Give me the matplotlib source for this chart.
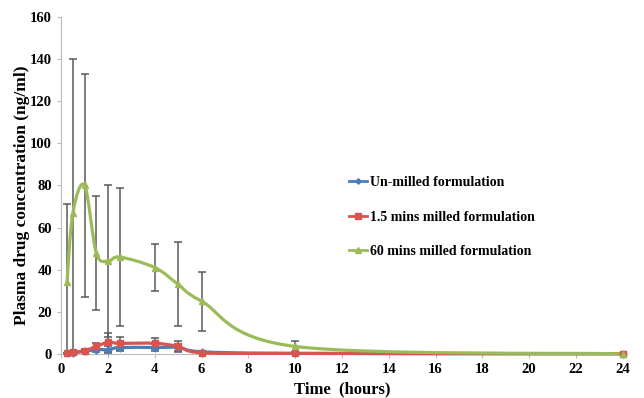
import matplotlib
matplotlib.use("Agg")
import matplotlib.pyplot as plt
import numpy as np
from matplotlib.path import Path
from matplotlib.patches import PathPatch
from matplotlib.lines import Line2D

plt.rcParams["font.family"] = "Liberation Serif"
plt.rcParams["font.weight"] = "bold"

time_h = [0.25, 0.5, 1, 1.5, 2, 2.5, 4, 5, 6, 10, 24]

unmilled = [0.2, 0.5, 1.2, 2.0, 2.0, 3.0, 3.0, 3.0, 1.0, 0.2, 0.0]
unmilled_err = [0.2, 0.3, 0.5, 1.0, 1.5, 1.5, 1.5, 1.5, 0.5, 0.2, 0.0]

milled_15 = [0.3, 0.7, 1.5, 3.5, 5.5, 5.0, 5.0, 3.5, 0.5, 0.2, 0.1]
milled_15_err = [0.3, 0.4, 0.8, 1.5, 4.5, 3.0, 2.5, 2.5, 0.5, 0.2, 0.0]

milled_60 = [34, 67, 80, 48, 44, 46, 41, 33, 25, 3.5, 0.0]
milled_60_err = [37, 73, 53, 27, 36, 33, 11, 20, 14, 2.5, 0.0]

series = [
    ("Un-milled formulation", unmilled, unmilled_err, "#4A7EBB", "D", 3.5),
    ("1.5 mins milled formulation", milled_15, milled_15_err, "#D9534F", "s", 5),
    ("60 mins milled formulation", milled_60, milled_60_err, "#9BBB59", "^", 5),
]


def smooth_path(ax, xs, ys):
    # Excel style smoothed line: cubic Bezier through points, built in display space
    pts = ax.transData.transform(np.column_stack([xs, ys]))
    n = len(pts)
    verts = [pts[0]]
    codes = [Path.MOVETO]
    for i in range(n - 1):
        p0 = pts[i - 1] if i > 0 else pts[i]
        p1 = pts[i]
        p2 = pts[i + 1]
        p3 = pts[i + 2] if i + 2 < n else pts[i + 1]
        c1 = p1 + (p2 - p0) / 6.0
        c2 = p2 - (p3 - p1) / 6.0
        verts += [c1, c2, p2]
        codes += [Path.CURVE4] * 3
    verts = ax.transData.inverted().transform(np.array(verts))
    return Path(verts, codes)


fig = plt.figure(figsize=(6.44, 3.98), dpi=100)
ax = fig.add_axes([0.095, 0.111, 0.872, 0.846])
ax.set_xlim(0, 24)
ax.set_ylim(0, 160)

for label, vals, errs, color, marker, ms in series:
    ax.errorbar(time_h, vals, yerr=errs, fmt="none", ecolor="#5A5A5A",
                elinewidth=1.1, capsize=3, capthick=1.1, zorder=2)
    patch = PathPatch(smooth_path(ax, time_h, vals), facecolor="none",
                      edgecolor=color, lw=2.3, zorder=3, clip_on=False)
    ax.add_patch(patch)
    ax.plot(time_h, vals, linestyle="none", marker=marker, ms=ms,
            color=color, zorder=4, clip_on=False)

ax.set_xticks(range(0, 25, 2))
ax.set_yticks(range(0, 161, 20))
ax.tick_params(axis="both", labelsize=10.5, length=3, color="#BBBBBB", width=0.8)
for lbl in ax.get_xticklabels() + ax.get_yticklabels():
    lbl.set_fontweight("bold")

for side in ["top", "right"]:
    ax.spines[side].set_visible(False)
for side in ["left", "bottom"]:
    ax.spines[side].set_color("#BBBBBB")
    ax.spines[side].set_linewidth(0.8)

ax.set_xlabel("Time  (hours)", fontsize=12, fontweight="bold", labelpad=4)
ax.set_ylabel("Plasma drug concentration (ng/ml)", fontsize=12.5,
              fontweight="bold")
ax.yaxis.set_label_coords(-0.056, 0.47)

handles = [Line2D([0], [0], color=c, marker=m, ms=s * 0.8, lw=2.0)
           for _, _, _, c, m, s in series]
labels = [s[0] for s in series]
ax.legend(handles, labels, loc="upper left", bbox_to_anchor=(0.49, 0.565),
          frameon=False, handlelength=1.3, handletextpad=0.2,
          labelspacing=1.55, prop={"weight": "bold", "size": 10})

fig.savefig("out.png", dpi=100)
